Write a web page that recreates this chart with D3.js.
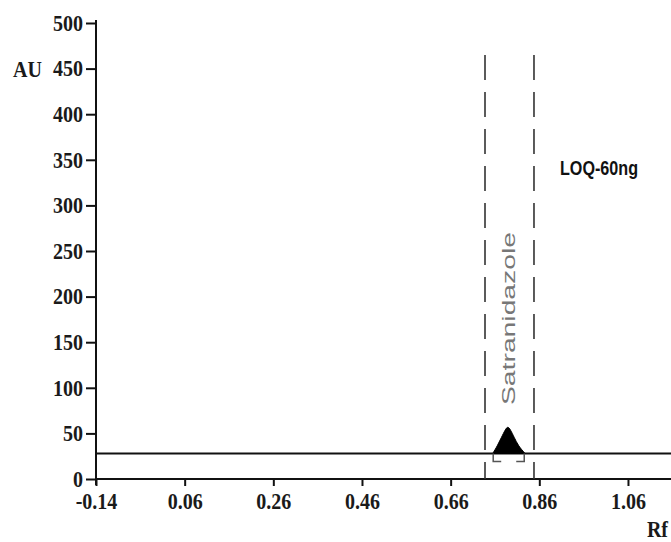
<!DOCTYPE html>
<html>
<head>
<meta charset="utf-8">
<script src="https://cdn.jsdelivr.net/npm/d3@7"></script>
<style>
  html, body { margin: 0; padding: 0; background: #fff; }
  svg { display: block; }
  .serif { font-family: "Liberation Serif", "Times New Roman", serif; font-weight: bold; fill: #1a1a1a; }
</style>
</head>
<body>
<svg id="chart" width="671" height="542"></svg>
<script>
// chart values
const yTicks = [0, 50, 100, 150, 200, 250, 300, 350, 400, 450, 500];
const xTicks = [-0.14, 0.06, 0.26, 0.46, 0.66, 0.86, 1.06];
const baselineAU = 28;
const peakRf = [0.755, 0.765, 0.775, 0.783, 0.789, 0.795, 0.803, 0.813, 0.828];
const peakAU = [28, 36, 46, 54, 58, 54, 46, 36, 28];
const trackRf = [0.7375, 0.848];   // dashed track borders
const trackTopAU = 465;
const integRf = [0.756, 0.826];    // integration bracket
const peakName = 'Satranidazole';
const noteText = 'LOQ-60ng';

const svg = d3.select('#chart');
const x = d3.scaleLinear().domain([-0.14, 1.16]).range([96, 672.3]);
const y = d3.scaleLinear().domain([0, 500]).range([479, 23]);

// y axis
const gy = svg.append('g').attr('transform', 'translate(96,0)')
  .call(d3.axisLeft(y).tickValues(yTicks).tickSize(10).tickSizeOuter(0).tickPadding(3));
gy.select('.domain').remove();
gy.selectAll('.tick line').attr('stroke', '#111').attr('stroke-width', 2);
gy.selectAll('.tick text').attr('class', 'serif squish').style('font-size', '23px')
  .attr('font-family', null).attr('fill', null);
svg.append('line').attr('x1', 96).attr('x2', 96).attr('y1', y(500) - 3).attr('y2', y(0) + 6)
  .attr('stroke', '#111').attr('stroke-width', 2);

// x axis
const gx = svg.append('g').attr('transform', `translate(0,${y(0)})`)
  .call(d3.axisBottom(x).tickValues(xTicks).tickSize(7).tickSizeOuter(0)
    .tickFormat(d => d.toFixed(2)));
gx.select('.domain').remove();
gx.selectAll('.tick line').attr('stroke', '#111').attr('stroke-width', 2);
gx.selectAll('.tick text').attr('class', 'serif squish').style('font-size', '23px')
  .attr('font-family', null).attr('fill', null).attr('y', 30).attr('dy', null);
svg.append('line').attr('x1', 96).attr('x2', 671).attr('y1', y(0)).attr('y2', y(0))
  .attr('stroke', '#111').attr('stroke-width', 2);

// axis titles
svg.append('text').attr('class', 'serif squish').attr('x', 13).attr('y', 77)
  .style('font-size', '23px').text('AU');
svg.append('text').attr('class', 'serif squish').attr('x', 668).attr('y', 537)
  .attr('text-anchor', 'end').style('font-size', '23px').text('Rf');

// dashed track lines
svg.selectAll('line.track').data(trackRf).join('line').attr('class', 'track')
  .attr('x1', d => x(d)).attr('x2', d => x(d))
  .attr('y1', y(trackTopAU)).attr('y2', y(0))
  .attr('stroke', '#333').attr('stroke-width', 1.6).attr('stroke-dasharray', '25,12');

// baseline
svg.append('line').attr('x1', 96).attr('x2', 671)
  .attr('y1', y(baselineAU)).attr('y2', y(baselineAU))
  .attr('stroke', '#111').attr('stroke-width', 2);

// peak
const peak = peakRf.map((r, i) => [r, peakAU[i]]);
svg.append('path').datum(peak)
  .attr('d', d3.area().x(d => x(d[0])).y0(y(baselineAU)).y1(d => y(d[1])).curve(d3.curveBasis))
  .attr('fill', '#000').attr('stroke', '#000').attr('stroke-width', 1);

// integration bracket
const by0 = y(baselineAU), by1 = y(baselineAU) + 8;
const bl = x(integRf[0]), br = x(integRf[1]);
svg.append('path')
  .attr('d', `M${bl},${by0}V${by1}H${bl + 8}M${br - 8},${by1}H${br}V${by0}`)
  .attr('fill', 'none').attr('stroke', '#555').attr('stroke-width', 1.5);

// peak name
const midRf = (trackRf[0] + trackRf[1]) / 2;
svg.append('text')
  .attr('transform', `translate(${x(midRf) + 6},${318.5}) rotate(-90)`)
  .attr('text-anchor', 'middle')
  .attr('textLength', 173).attr('lengthAdjust', 'spacingAndGlyphs')
  .style('font-family', '"Liberation Sans", Arial, sans-serif')
  .style('font-size', '18px').style('fill', '#777')
  .text(peakName);

// note
svg.append('text').attr('x', 560).attr('y', 175)
  .attr('textLength', 78).attr('lengthAdjust', 'spacingAndGlyphs')
  .style('font-family', '"Liberation Sans", Arial, sans-serif')
  .style('font-weight', 'bold').style('font-size', '20px').style('fill', '#111')
  .text(noteText);

// horizontally condensed serif labels like the scanned figure
svg.selectAll('text.squish').each(function () {
  const w = this.getComputedTextLength();
  d3.select(this).attr('textLength', w * 0.87).attr('lengthAdjust', 'spacingAndGlyphs');
});
</script>
</body>
</html>
